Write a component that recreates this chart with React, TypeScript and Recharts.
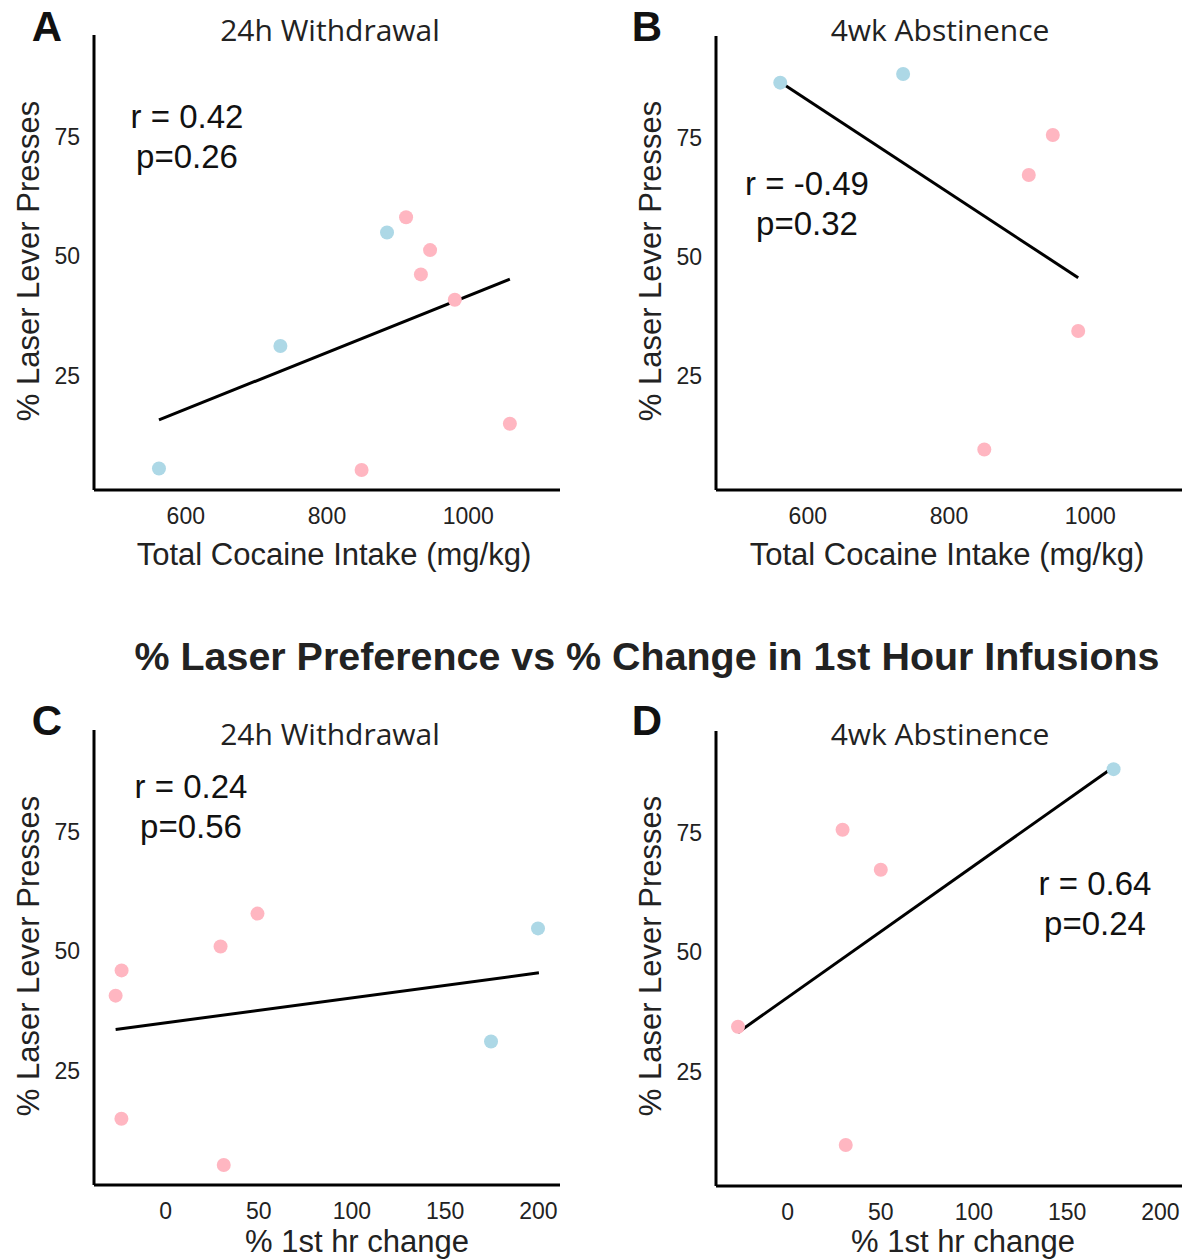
import React from 'react';
import { ScatterChart, Scatter, XAxis, YAxis, ReferenceLine } from 'recharts';

// tick labels
const intakeTicks = [600, 800, 1000];
const changeTicks = [0, 50, 100, 150, 200];
const pressTicks = [25, 50, 75];

// A: 24h withdrawal vs total cocaine intake
const aBlue = [
  { x: 562, y: 5.5 },
  { x: 734, y: 31.2 },
  { x: 885, y: 55 },
];
const aPink = [
  { x: 849, y: 5.2 },
  { x: 1059, y: 14.9 },
  { x: 912, y: 58.2 },
  { x: 946, y: 51.3 },
  { x: 933, y: 46.2 },
  { x: 981, y: 40.9 },
];
const aFit = [{ x: 562, y: 15.7 }, { x: 1059, y: 45.2 }];

// B: 4wk abstinence vs total cocaine intake
const bBlue = [
  { x: 561, y: 86.6 },
  { x: 735, y: 88.4 },
];
const bPink = [
  { x: 947, y: 75.6 },
  { x: 913, y: 67.2 },
  { x: 983, y: 34.4 },
  { x: 850, y: 9.5 },
];
const bFit = [{ x: 564, y: 86.4 }, { x: 983, y: 45.6 }];

// C: 24h withdrawal vs % 1st hr change
const cBlue = [
  { x: 199.8, y: 54.8 },
  { x: 174.6, y: 31.1 },
];
const cPink = [
  { x: -23.7, y: 14.9 },
  { x: 31.2, y: 5.2 },
  { x: -26.8, y: 40.7 },
  { x: -23.6, y: 46 },
  { x: 29.5, y: 51 },
  { x: 49.3, y: 57.9 },
];
const cFit = [{ x: -26.8, y: 33.6 }, { x: 200.3, y: 45.5 }];

// D: 4wk abstinence vs % 1st hr change
const dBlue = [{ x: 174.9, y: 88.4 }];
const dPink = [
  { x: 29.5, y: 75.7 },
  { x: 50, y: 67.3 },
  { x: -26.6, y: 34.4 },
  { x: 31.2, y: 9.6 },
];
const dFit = [{ x: -26.6, y: 33.2 }, { x: 174, y: 88.6 }];

const font = 'Liberation Sans, Arial, sans-serif';
const titleFont = '"Open Sans", "Noto Sans", sans-serif';
const BLUE = '#add8e6';
const PINK = '#ffb6c1';

const dot = (color: string) => (props: any) => (
  <circle cx={props.cx} cy={props.cy} r={7} fill={color} />
);

interface PanelProps {
  left: number;
  top: number;
  width: number;
  height: number;
  margin: { top: number; right: number; bottom: number; left: number };
  xAxisHeight: number;
  xDomain: [number, number];
  xTicks: number[];
  blue: { x: number; y: number }[];
  pink: { x: number; y: number }[];
  fit: { x: number; y: number }[];
  letter: string;
  letterPos: [number, number];
  title: string;
  titlePos: [number, number];
  stats: [string, string];
  statsPos: [number, number];
  xLabel: string;
  xLabelPos: [number, number];
  yLabelPos: [number, number];
}

const Panel = (p: PanelProps) => {
  // text positions are given in page coordinates
  const L = (x: number) => x - p.left;
  const T = (y: number) => y - p.top;
  const [yx, yy] = p.yLabelPos;
  return (
    <div style={{ position: 'absolute', left: p.left, top: p.top }}>
      <ScatterChart width={p.width} height={p.height} margin={p.margin}>
        <XAxis
          type="number"
          dataKey="x"
          domain={p.xDomain}
          ticks={p.xTicks}
          allowDataOverflow
          height={p.xAxisHeight}
          tickLine={false}
          tickMargin={12}
          axisLine={{ stroke: '#000', strokeWidth: 3 }}
          tick={{ fill: '#222', fontSize: 23, fontFamily: font }}
        />
        <YAxis
          type="number"
          dataKey="y"
          domain={[1, 96.4]}
          ticks={pressTicks}
          allowDataOverflow
          width={30}
          tickLine={false}
          tickMargin={8}
          axisLine={{ stroke: '#000', strokeWidth: 3 }}
          tick={{ fill: '#222', fontSize: 23, fontFamily: font }}
        />
        <Scatter data={p.blue} shape={dot(BLUE)} isAnimationActive={false} />
        <Scatter data={p.pink} shape={dot(PINK)} isAnimationActive={false} />
        <ReferenceLine segment={p.fit} stroke="#000" strokeWidth={3} />
        <text x={L(p.letterPos[0])} y={T(p.letterPos[1])} textAnchor="middle" fontFamily={font} fontWeight="bold" fontSize={42} fill="#111">
          {p.letter}
        </text>
        <text x={L(p.titlePos[0])} y={T(p.titlePos[1])} textAnchor="middle" fontFamily={titleFont} fontSize={30} fill="#222">
          {p.title}
        </text>
        <text x={L(p.statsPos[0])} y={T(p.statsPos[1])} textAnchor="middle" fontFamily={font} fontSize={33} fill="#111">
          {p.stats[0]}
        </text>
        <text x={L(p.statsPos[0])} y={T(p.statsPos[1] + 40)} textAnchor="middle" fontFamily={font} fontSize={33} fill="#111">
          {p.stats[1]}
        </text>
        <text x={L(p.xLabelPos[0])} y={T(p.xLabelPos[1])} textAnchor="middle" fontFamily={font} fontSize={31} fill="#222">
          {p.xLabel}
        </text>
        <text
          x={L(yx)}
          y={T(yy)}
          textAnchor="middle"
          fontFamily={font}
          fontSize={31}
          fill="#222"
          transform={`rotate(-90, ${L(yx)}, ${T(yy)})`}
        >
          % Laser Lever Presses
        </text>
      </ScatterChart>
    </div>
  );
};

export default function App() {
  return (
    <div style={{ position: 'absolute', left: 0, top: 0, width: 1183, height: 1259, overflow: 'hidden', background: '#fff' }}>
      <Panel
        left={0} top={0} width={570} height={580}
        margin={{ top: 35, right: 10, bottom: 30, left: 64 }} xAxisHeight={60}
        xDomain={[470, 1130]} xTicks={intakeTicks}
        blue={aBlue} pink={aPink} fit={aFit}
        letter="A" letterPos={[47, 41]}
        title="24h Withdrawal" titlePos={[330, 41]}
        stats={['r = 0.42', 'p=0.26']} statsPos={[187, 128]}
        xLabel="Total Cocaine Intake (mg/kg)" xLabelPos={[334, 565]}
        yLabelPos={[39, 261]}
      />
      <Panel
        left={622} top={0} width={561} height={580}
        margin={{ top: 36, right: 1, bottom: 30, left: 64 }} xAxisHeight={60}
        xDomain={[470, 1130]} xTicks={intakeTicks}
        blue={bBlue} pink={bPink} fit={bFit}
        letter="B" letterPos={[647, 41]}
        title="4wk Abstinence" titlePos={[940, 41]}
        stats={['r = -0.49', 'p=0.32']} statsPos={[807, 195]}
        xLabel="Total Cocaine Intake (mg/kg)" xLabelPos={[947, 565]}
        yLabelPos={[661, 261]}
      />
      <svg width={1183} height={700} style={{ position: 'absolute', left: 0, top: 0, pointerEvents: 'none' }}>
        <text x={647} y={670} textAnchor="middle" fontFamily={font} fontWeight="bold" fontSize={38} fill="#222" textLength={1025} lengthAdjust="spacingAndGlyphs">
          % Laser Preference vs % Change in 1st Hour Infusions
        </text>
      </svg>
      <Panel
        left={0} top={600} width={570} height={659}
        margin={{ top: 130, right: 10, bottom: 30, left: 64 }} xAxisHeight={44}
        xDomain={[-38.4, 211.6]} xTicks={changeTicks}
        blue={cBlue} pink={cPink} fit={cFit}
        letter="C" letterPos={[47, 735]}
        title="24h Withdrawal" titlePos={[330, 745]}
        stats={['r = 0.24', 'p=0.56']} statsPos={[191, 798]}
        xLabel="% 1st hr change" xLabelPos={[357, 1252]}
        yLabelPos={[39, 956]}
      />
      <Panel
        left={622} top={600} width={561} height={659}
        margin={{ top: 131, right: 1, bottom: 30, left: 64 }} xAxisHeight={43}
        xDomain={[-38.4, 211.6]} xTicks={changeTicks}
        blue={dBlue} pink={dPink} fit={dFit}
        letter="D" letterPos={[647, 735]}
        title="4wk Abstinence" titlePos={[940, 745]}
        stats={['r = 0.64', 'p=0.24']} statsPos={[1095, 895]}
        xLabel="% 1st hr change" xLabelPos={[963, 1252]}
        yLabelPos={[661, 956]}
      />
    </div>
  );
}
